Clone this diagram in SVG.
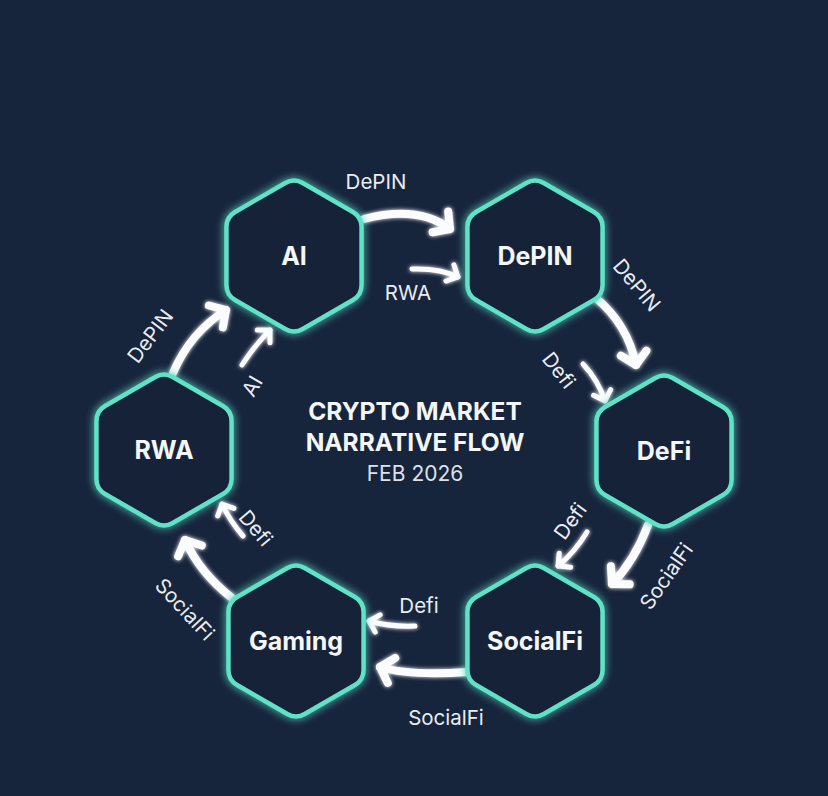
<svg xmlns="http://www.w3.org/2000/svg" width="828" height="796" viewBox="0 0 828 796">
<style>
.hex{fill:#142039;stroke:#5fe2c7;stroke-width:4.5;filter:url(#glow)}
.nl{font-family:Inter,"Liberation Sans",sans-serif;font-weight:700;font-size:25px;fill:#f4f6f8;text-anchor:middle;dominant-baseline:central}
.el{font-family:Inter,"Liberation Sans",sans-serif;font-size:20.5px;fill:#e9edf1;text-anchor:middle;dominant-baseline:central}
.t{font-family:Inter,"Liberation Sans",sans-serif;font-weight:700;font-size:24.5px;fill:#f4f6f8;text-anchor:middle}
.big{fill:none;stroke:#fbfcfd;stroke-width:8;stroke-linecap:round;marker-end:url(#ab)}
.sm{fill:none;stroke:#fbfcfd;stroke-width:5;stroke-linecap:round;marker-end:url(#as)}
</style>
<defs>
<filter id="glow" x="-30%" y="-30%" width="160%" height="160%">
<feGaussianBlur in="SourceGraphic" stdDeviation="4" result="b"/>
<feMerge><feMergeNode in="b"/><feMergeNode in="SourceGraphic"/></feMerge>
</filter>
<filter id="sg" x="-30%" y="-30%" width="160%" height="160%">
<feGaussianBlur in="SourceGraphic" stdDeviation="2" result="b"/>
<feMerge><feMergeNode in="b"/><feMergeNode in="SourceGraphic"/></feMerge>
</filter>
<path id="hx" d="M -8.66,-73 Q 0,-78 8.66,-73 L 58.89,-44 Q 67.55,-39 67.55,-29 L 67.55,29 Q 67.55,39 58.89,44 L 8.66,73 Q 0,78 -8.66,73 L -58.89,44 Q -67.55,39 -67.55,29 L -67.55,-29 Q -67.55,-39 -58.89,-44 Z"/>
<marker id="ab" markerUnits="userSpaceOnUse" markerWidth="40" markerHeight="40" viewBox="-20 -20 40 40" refX="0" refY="0" orient="auto" overflow="visible">
<path d="M-12,-13 L0,0 L-12,13" fill="none" stroke="#fbfcfd" stroke-width="8" stroke-linecap="round" stroke-linejoin="round"/>
</marker>
<marker id="as" markerUnits="userSpaceOnUse" markerWidth="30" markerHeight="30" viewBox="-15 -15 30 30" refX="0" refY="0" orient="auto" overflow="visible">
<path d="M-9,-9 L0,0 L-9,9" fill="none" stroke="#fbfcfd" stroke-width="5" stroke-linecap="round" stroke-linejoin="round"/>
</marker>
</defs>
<rect width="828" height="796" fill="#16243c"/>

<g id="connectors" filter="url(#sg)">
<path class="big" d="M 364 219 Q 418 205 450 229"/>
<path class="sm" d="M 412 269 Q 440 268 458 277"/>
<path class="big" d="M 596 298 Q 628 325 636 365"/>
<path class="sm" d="M 583 364 Q 598 380 605 401"/>
<path class="big" d="M 648 525 Q 635 560 612 584"/>
<path class="sm" d="M 587 532 Q 575 552 558 566"/>
<path class="big" d="M 467 672 Q 410 676 380 667"/>
<path class="sm" d="M 415 626 Q 390 627 369 621"/>
<path class="big" d="M 232 598 Q 200 573 185 540"/>
<path class="sm" d="M 243 536 Q 230 521 222 504"/>
<path class="big" d="M 173 373 Q 190 333 226 310"/>
<path class="sm" d="M 242 365 Q 255 345 270 330"/>
</g>

<g id="edge-labels">
<text class="el" x="376" y="181">DePIN</text>
<text class="el" x="408" y="292">RWA</text>
<text class="el" transform="translate(637,285) rotate(50)">DePIN</text>
<text class="el" transform="translate(559,370) rotate(52)">Defi</text>
<text class="el" transform="translate(666,576) rotate(-55)">SocialFi</text>
<text class="el" transform="translate(570,521) rotate(-54)">Defi</text>
<text class="el" x="446" y="717">SocialFi</text>
<text class="el" x="419" y="605">Defi</text>
<text class="el" transform="translate(185,609) rotate(47)">SocialFi</text>
<text class="el" transform="translate(256,528) rotate(50)">Defi</text>
<text class="el" transform="translate(150,336) rotate(-53)">DePIN</text>
<text class="el" transform="translate(252,386) rotate(-60)">AI</text>
</g>

<g id="node-ai"><use href="#hx" class="hex" transform="translate(294,256)"/><text class="nl" x="294" y="256">AI</text></g>
<g id="node-depin"><use href="#hx" class="hex" transform="translate(535,256)"/><text class="nl" x="535" y="256">DePIN</text></g>
<g id="node-defi"><use href="#hx" class="hex" transform="translate(664,451)"/><text class="nl" x="664" y="451">DeFi</text></g>
<g id="node-socialfi"><use href="#hx" class="hex" transform="translate(535,641)"/><text class="nl" x="535" y="641">SocialFi</text></g>
<g id="node-gaming"><use href="#hx" class="hex" transform="translate(296,641)"/><text class="nl" x="296" y="641">Gaming</text></g>
<g id="node-rwa"><use href="#hx" class="hex" transform="translate(164,450)"/><text class="nl" x="164" y="450">RWA</text></g>

<g id="title">
<text class="t" x="415" y="420">CRYPTO MARKET</text>
<text class="t" x="415" y="451">NARRATIVE FLOW</text>
<text x="415" y="481" font-family="Inter,'Liberation Sans',sans-serif" font-size="21" fill="#dde2e8" text-anchor="middle">FEB 2026</text>
</g>
</svg>
